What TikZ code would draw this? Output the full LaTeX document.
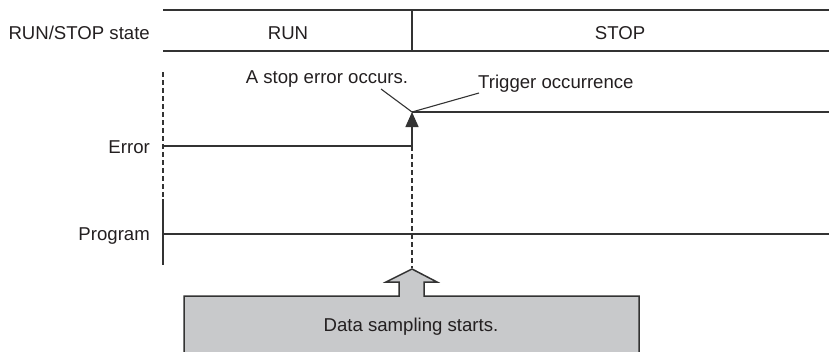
\documentclass[tikz,border=0pt]{standalone}
\usepackage{fontspec}
\setmainfont{Liberation Sans}
\usetikzlibrary{arrows.meta}
\definecolor{ln}{HTML}{333333}
\definecolor{tx}{HTML}{231F20}
\definecolor{boxfill}{HTML}{C8C9CB}
\begin{document}
\begin{tikzpicture}[x=1pt,y=-1pt,
  lbl/.style={inner sep=0pt,text=tx,font=\fontsize{18.6}{22}\selectfont},
  wire/.style={draw=ln,line width=1.5pt},
  dsh/.style={draw=ln,line width=1.4pt,dash pattern=on 5pt off 3pt},
  thin/.style={draw=ln,line width=1.1pt}]
\useasboundingbox (0,0) rectangle (829,351);
% state table
\coordinate (tl) at (163,10); \coordinate (tr) at (829,10);
\coordinate (bl) at (163,51); \coordinate (br) at (829,51);
\coordinate (dt) at (412,10); \coordinate (db) at (412,51);
\draw[wire] (tl) -- (tr);
\draw[wire] (bl) -- (br);
\draw[wire] (dt) -- (db);
\node[lbl,anchor=base east] (rs) at (150,39) {RUN/STOP state};
\node[lbl,anchor=base] (run) at (288,39) {RUN};
\node[lbl,anchor=base] (stop) at (620,39) {STOP};
% signal labels
\node[lbl,anchor=base east] (err) at (150,153) {Error};
\node[lbl,anchor=base east] (prog) at (150,240) {Program};
% left start line
\coordinate (ls1) at (163,72); \coordinate (ls2) at (163,199);
\coordinate (ls3) at (163,265);
\draw[dsh] (ls1) -- (ls2);
\draw[wire] (ls2) -- (ls3);
% error signal
\coordinate (e0) at (163,146); \coordinate (e1) at (412,146);
\coordinate (tip) at (412,112); \coordinate (e2) at (829,112);
\draw[wire] (e0) -- (e1);
\draw[wire,-{Triangle[length=15pt,width=13pt]}] (e1) -- (tip);
\draw[wire] (tip) -- (e2);
% program
\coordinate (p0) at (163,234); \coordinate (p1) at (829,234);
\draw[wire] (p0) -- (p1);
% trigger dashed line
\coordinate (d1) at (412,268);
\draw[dsh] (e1) -- (d1);
% annotations
\node[lbl,anchor=base] (stoperr) at (327,83) {A stop error occurs.};
\node[lbl,anchor=base west] (trig) at (478,88) {Trigger occurrence};
\coordinate (a1) at (381,89); \coordinate (a2) at (479,93);
\draw[thin] (a1) -- (tip);
\draw[thin] (a2) -- (tip);
% big arrow box
\draw[draw=ln,line width=1.5pt,fill=boxfill,line join=miter]
  (184,352) -- (184,296) -- (399,296) -- (399,282) -- (386,282) -- (412,269)
  -- (437,282) -- (424,282) -- (424,296) -- (639,296) -- (639,352);
\node[lbl,anchor=base] (ds) at (411,331) {Data sampling starts.};
\end{tikzpicture}
\end{document}
